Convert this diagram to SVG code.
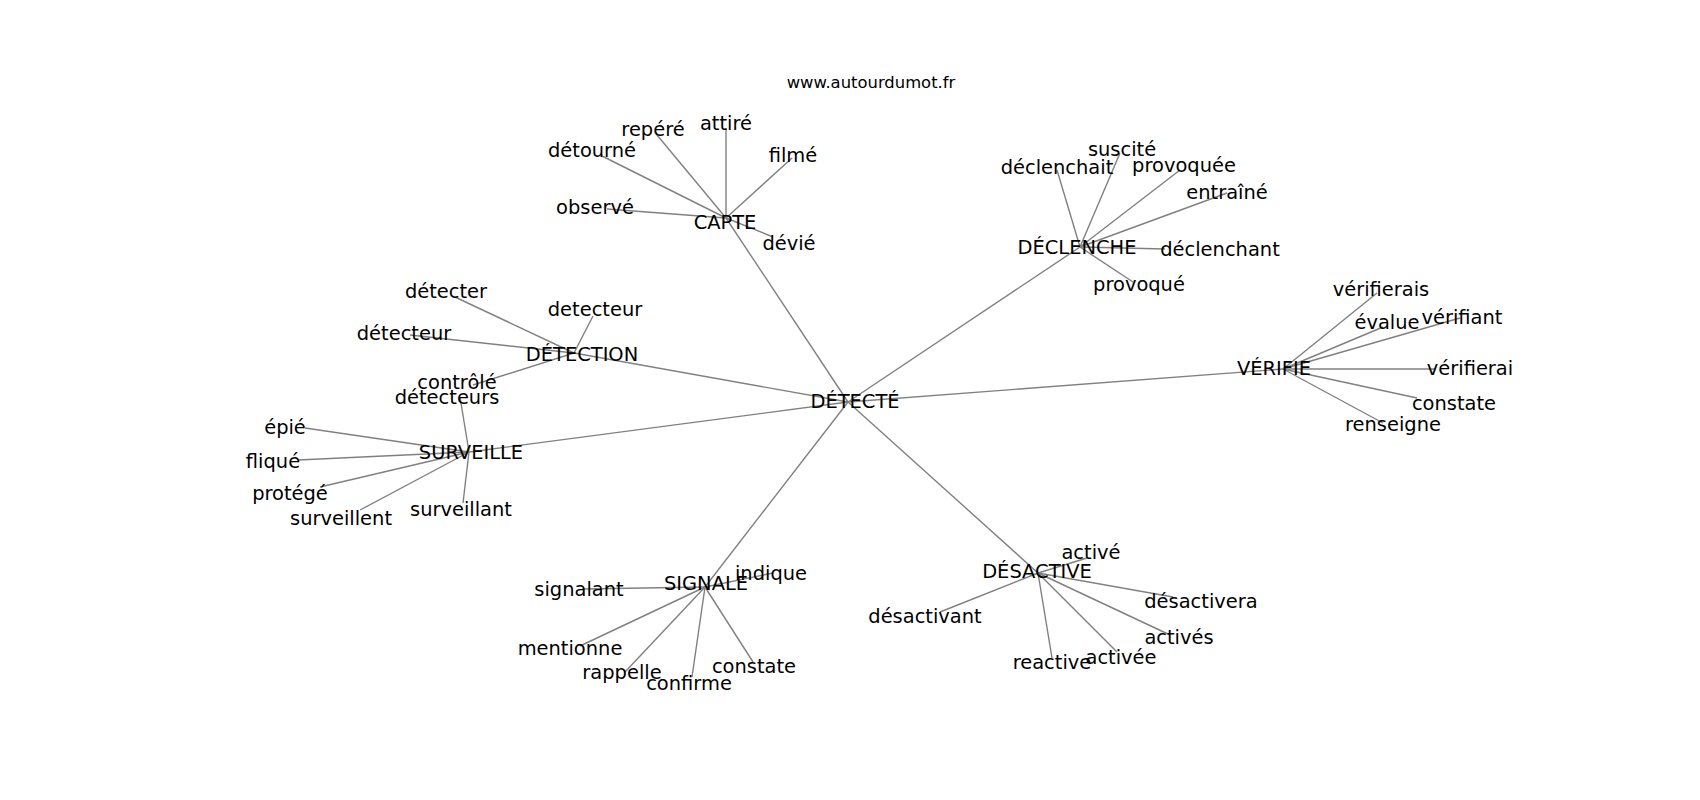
<svg xmlns="http://www.w3.org/2000/svg" width="1700" height="800" viewBox="0 0 1700 800">
<style>
.bg{fill:#ffffff}
.e line{stroke:#808080;stroke-width:1.4;fill:none}
text{font-family:"DejaVu Sans","Liberation Sans",sans-serif;fill:#000000;text-anchor:middle}
.n text{font-size:19.44px}
.wm{font-size:16.4px}
</style>
<rect class="bg" x="0" y="0" width="1700" height="800"/>
<text class="wm" x="871" y="88">www.autourdumot.fr</text>
<g id="edges" class="e">
<line x1="848" y1="402" x2="726" y2="218"/>
<line x1="848" y1="402" x2="1080" y2="247"/>
<line x1="848" y1="402" x2="1283" y2="369"/>
<line x1="848" y1="402" x2="1038" y2="573"/>
<line x1="848" y1="402" x2="705" y2="587"/>
<line x1="848" y1="402" x2="469" y2="452"/>
<line x1="848" y1="402" x2="574" y2="353"/>
<line x1="726" y1="218" x2="726" y2="128"/>
<line x1="726" y1="218" x2="657" y2="135"/>
<line x1="726" y1="218" x2="602" y2="156"/>
<line x1="726" y1="218" x2="607" y2="209"/>
<line x1="726" y1="218" x2="792" y2="158"/>
<line x1="726" y1="218" x2="773" y2="237"/>
<line x1="1080" y1="247" x2="1120" y2="153"/>
<line x1="1080" y1="247" x2="1057" y2="170"/>
<line x1="1080" y1="247" x2="1180" y2="170"/>
<line x1="1080" y1="247" x2="1227" y2="193"/>
<line x1="1080" y1="247" x2="1165" y2="249"/>
<line x1="1080" y1="247" x2="1133" y2="282"/>
<line x1="1283" y1="369" x2="1377" y2="293"/>
<line x1="1283" y1="369" x2="1383" y2="327"/>
<line x1="1283" y1="369" x2="1460" y2="318"/>
<line x1="1283" y1="369" x2="1435" y2="369"/>
<line x1="1283" y1="369" x2="1417" y2="398"/>
<line x1="1283" y1="369" x2="1383" y2="423"/>
<line x1="705" y1="587" x2="773" y2="573"/>
<line x1="705" y1="587" x2="582" y2="589"/>
<line x1="705" y1="587" x2="580" y2="646"/>
<line x1="705" y1="587" x2="625" y2="672"/>
<line x1="705" y1="587" x2="692" y2="677"/>
<line x1="705" y1="587" x2="753" y2="662"/>
<line x1="1038" y1="573" x2="1087" y2="558"/>
<line x1="1038" y1="573" x2="1173" y2="597"/>
<line x1="1038" y1="573" x2="940" y2="612"/>
<line x1="1038" y1="573" x2="1170" y2="635"/>
<line x1="1038" y1="573" x2="1117" y2="652"/>
<line x1="1038" y1="573" x2="1052" y2="658"/>
<line x1="574" y1="353" x2="455" y2="297"/>
<line x1="574" y1="353" x2="593" y2="316"/>
<line x1="574" y1="353" x2="410" y2="335"/>
<line x1="574" y1="353" x2="473" y2="385"/>
<line x1="469" y1="452" x2="460" y2="397"/>
<line x1="469" y1="452" x2="305" y2="428"/>
<line x1="469" y1="452" x2="298" y2="460"/>
<line x1="469" y1="452" x2="320" y2="487"/>
<line x1="469" y1="452" x2="360" y2="510"/>
<line x1="469" y1="452" x2="463" y2="503"/>
</g>
<g id="n-detecte" class="n"><text x="855" y="408">DÉTECTÉ</text></g>
<g id="n-capte" class="n"><text x="725" y="229">CAPTE</text></g>
<g id="n-declenche" class="n"><text x="1077" y="254">DÉCLENCHE</text></g>
<g id="n-verifie" class="n"><text x="1274" y="375">VÉRIFIE</text></g>
<g id="n-signale" class="n"><text x="706" y="590">SIGNALE</text></g>
<g id="n-desactive" class="n"><text x="1037" y="578">DÉSACTIVE</text></g>
<g id="n-detection" class="n"><text x="582" y="361">DÉTECTION</text></g>
<g id="n-surveille" class="n"><text x="471" y="459">SURVEILLE</text></g>
<g id="n-attire" class="n"><text x="726" y="130">attiré</text></g>
<g id="n-repere" class="n"><text x="653" y="136">repéré</text></g>
<g id="n-detourne" class="n"><text x="592" y="157">détourné</text></g>
<g id="n-observe" class="n"><text x="595" y="214">observé</text></g>
<g id="n-filme" class="n"><text x="793" y="162">filmé</text></g>
<g id="n-devie" class="n"><text x="789" y="250">dévié</text></g>
<g id="n-suscite" class="n"><text x="1122" y="156">suscité</text></g>
<g id="n-declenchait" class="n"><text x="1057" y="174">déclenchait</text></g>
<g id="n-provoquee" class="n"><text x="1184" y="172">provoquée</text></g>
<g id="n-entraine" class="n"><text x="1227" y="199">entraîné</text></g>
<g id="n-declenchant" class="n"><text x="1220" y="256">déclenchant</text></g>
<g id="n-provoque" class="n"><text x="1139" y="291">provoqué</text></g>
<g id="n-verifierais" class="n"><text x="1381" y="296">vérifierais</text></g>
<g id="n-evalue" class="n"><text x="1387" y="329">évalue</text></g>
<g id="n-verifiant" class="n"><text x="1462" y="324">vérifiant</text></g>
<g id="n-verifierai" class="n"><text x="1470" y="375">vérifierai</text></g>
<g id="n-constate1" class="n"><text x="1454" y="410">constate</text></g>
<g id="n-renseigne" class="n"><text x="1393" y="431">renseigne</text></g>
<g id="n-indique" class="n"><text x="771" y="580">indique</text></g>
<g id="n-signalant" class="n"><text x="579" y="596">signalant</text></g>
<g id="n-mentionne" class="n"><text x="570" y="655">mentionne</text></g>
<g id="n-rappelle" class="n"><text x="622" y="679">rappelle</text></g>
<g id="n-confirme" class="n"><text x="689" y="690">confirme</text></g>
<g id="n-constate2" class="n"><text x="754" y="673">constate</text></g>
<g id="n-active" class="n"><text x="1091" y="559">activé</text></g>
<g id="n-desactivera" class="n"><text x="1201" y="608">désactivera</text></g>
<g id="n-desactivant" class="n"><text x="925" y="623">désactivant</text></g>
<g id="n-actives" class="n"><text x="1179" y="644">activés</text></g>
<g id="n-activee" class="n"><text x="1121" y="664">activée</text></g>
<g id="n-reactive" class="n"><text x="1052" y="669">reactive</text></g>
<g id="n-detecter" class="n"><text x="446" y="298">détecter</text></g>
<g id="n-detecteur1" class="n"><text x="595" y="316">detecteur</text></g>
<g id="n-detecteur2" class="n"><text x="404" y="340">détecteur</text></g>
<g id="n-controle" class="n"><text x="457" y="389">contrôlé</text></g>
<g id="n-detecteurs" class="n"><text x="447" y="404">détecteurs</text></g>
<g id="n-epie" class="n"><text x="285" y="434">épié</text></g>
<g id="n-flique" class="n"><text x="273" y="468">fliqué</text></g>
<g id="n-protege" class="n"><text x="290" y="500">protégé</text></g>
<g id="n-surveillent" class="n"><text x="341" y="525">surveillent</text></g>
<g id="n-surveillant" class="n"><text x="461" y="516">surveillant</text></g>
</svg>
